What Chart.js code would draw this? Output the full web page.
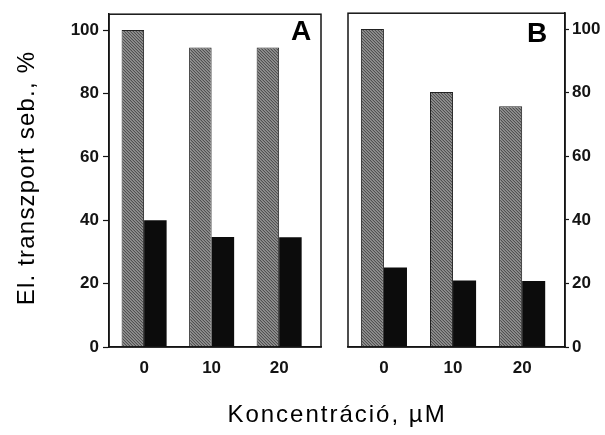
<!DOCTYPE html>
<html>
<head>
<meta charset="utf-8">
<script src="https://cdn.jsdelivr.net/npm/chart.js@4/dist/chart.umd.min.js"></script>
<style>
  html, body { margin: 0; padding: 0; background: #ffffff; }
  #wrap { position: relative; width: 605px; height: 435px; overflow: hidden; }
  #wrap canvas { position: absolute; left: 0; top: 0; }
</style>
</head>
<body>
<div id="wrap">
  <canvas id="panelA" width="605" height="435"></canvas>
  <canvas id="panelB" width="605" height="435"></canvas>
</div>
<script>
// Concentrations (µM) on the x axis and the value ticks on the y axis
const concentrations = ['0', '10', '20'];
const yTicks = [0, 20, 40, 60, 80, 100];

// Panel A: electron transport rate, %
const panelAGray = [100, 94.5, 94.5];
const panelABlack = [40, 34.7, 34.6];

// Panel B: electron transport rate, %
const panelBGray = [100, 80.2, 75.7];
const panelBBlack = [25, 20.9, 20.8];

const FONT = "'Liberation Sans', Arial, Helvetica, sans-serif";
const INK = '#141414';

// Fine diagonal "\" hatching used for the grey bars
function makeHatch() {
  const c = document.createElement('canvas');
  c.width = 3; c.height = 3;
  const g = c.getContext('2d');
  for (let y = 0; y < 3; y++) {
    for (let x = 0; x < 3; x++) {
      const d = ((x - y) % 3 + 3) % 3;
      g.fillStyle = d === 0 ? '#505050' : (d === 1 ? '#929292' : '#7f7f7f');
      g.fillRect(x, y, 1, 1);
    }
  }
  return g.createPattern(c, 'repeat');
}
const hatch = makeHatch();

function points(values) {
  return values.map((v, i) => ({ x: i, y: v }));
}

// Closed frame around the plot area plus the panel letter
const framePlugin = {
  id: 'frame',
  afterDraw(chart, args, opts) {
    const { ctx, chartArea: a } = chart;
    ctx.save();
    ctx.strokeStyle = INK;
    ctx.lineWidth = 1.5;
    ctx.strokeRect(a.left, a.top, a.right - a.left, a.bottom - a.top);
    ctx.fillStyle = '#000';
    ctx.font = 'bold 28px ' + FONT;
    ctx.textAlign = 'center';
    ctx.textBaseline = 'middle';
    ctx.fillText(opts.letter, a.right - opts.dx, a.top + opts.dy);
    ctx.restore();
  }
};

// Shared axis titles, drawn once on the left panel
const titlesPlugin = {
  id: 'titles',
  afterDraw(chart, args, opts) {
    if (!opts.show) return;
    const { ctx } = chart;
    ctx.save();
    ctx.fillStyle = '#000';
    ctx.font = '24px ' + FONT;
    ctx.textAlign = 'center';
    ctx.textBaseline = 'middle';
    if ('letterSpacing' in ctx) ctx.letterSpacing = '1.2px';
    ctx.translate(27, 178);
    ctx.rotate(-Math.PI / 2);
    ctx.fillText('El. transzport seb., %', 0, 0);
    ctx.restore();

    ctx.save();
    ctx.fillStyle = '#000';
    ctx.font = '24px ' + FONT;
    ctx.textAlign = 'center';
    ctx.textBaseline = 'middle';
    if ('letterSpacing' in ctx) ctx.letterSpacing = '2px';
    ctx.fillText('Koncentráció, µM', 337, 415);
    ctx.restore();
  }
};

function makePanel(id, gray, black, cfg) {
  return new Chart(document.getElementById(id), {
    type: 'bar',
    data: {
      datasets: [
        {
          data: points(gray),
          backgroundColor: hatch,
          borderColor: '#222222',
          borderWidth: 1,
          categoryPercentage: 0.667,
          barPercentage: 1.0
        },
        {
          data: points(black),
          backgroundColor: '#0c0c0c',
          borderColor: '#0c0c0c',
          borderWidth: 0,
          categoryPercentage: 0.667,
          barPercentage: 1.0
        }
      ]
    },
    options: {
      responsive: false,
      animation: false,
      devicePixelRatio: 1,
      layout: { padding: cfg.padding },
      plugins: {
        legend: { display: false },
        tooltip: { enabled: false },
        frame: { letter: cfg.letter, dx: cfg.letterDx, dy: cfg.letterDy },
        titles: { show: cfg.titles }
      },
      scales: {
        x: {
          type: 'linear',
          min: -0.52,
          max: 2.62,
          offset: false,
          afterBuildTicks: s => { s.ticks = concentrations.map((_, i) => ({ value: i })); },
          afterFit: s => { s.height = 88; },
          grid: { display: false, drawTicks: false, offset: false },
          border: { display: true, color: INK, width: 1.5 },
          ticks: {
            padding: 11,
            color: INK,
            font: { family: FONT, size: 17, weight: 'bold' },
            callback: v => concentrations[Math.round(v)]
          }
        },
        y: {
          position: cfg.yPosition,
          min: 0,
          max: 105,
          afterBuildTicks: s => { s.ticks = yTicks.map(v => ({ value: v })); },
          afterFit: s => { s.width = cfg.yWidth; },
          grid: {
            display: true,
            drawOnChartArea: false,
            drawTicks: true,
            tickLength: cfg.tickLength,
            tickColor: INK,
            tickWidth: 1.2
          },
          border: { display: true, color: INK, width: 1.5 },
          ticks: {
            padding: cfg.tickPad,
            color: INK,
            font: { family: FONT, size: 17, weight: 'bold' }
          }
        }
      }
    },
    plugins: [framePlugin, titlesPlugin]
  });
}

makePanel('panelA', panelAGray, panelABlack, {
  padding: { left: 0, right: 284, top: 11, bottom: 0 },
  yPosition: 'left', yWidth: 109, tickLength: 6, tickPad: 4,
  letter: 'A', letterDx: 20, letterDy: 18, titles: true
});

makePanel('panelB', panelBGray, panelBBlack, {
  padding: { left: 348, right: 0, top: 11, bottom: 0 },
  yPosition: 'right', yWidth: 40, tickLength: 4, tickPad: 3,
  letter: 'B', letterDx: 28, letterDy: 21, titles: false
});
</script>
</body>
</html>
